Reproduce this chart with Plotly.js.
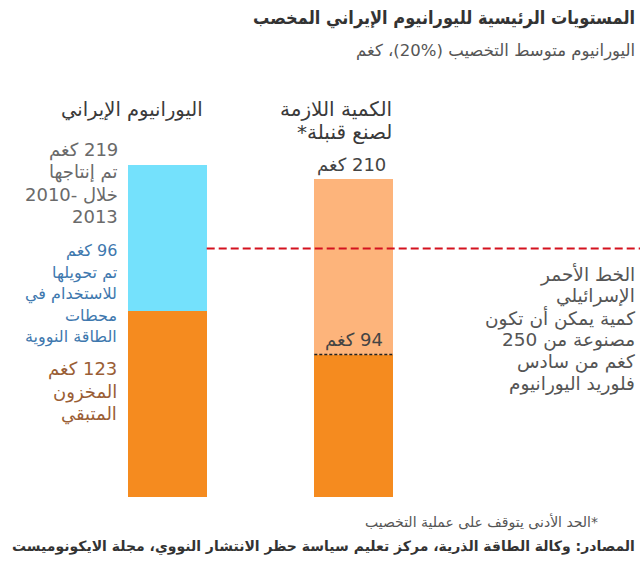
<!DOCTYPE html>
<html>
<head>
<meta charset="utf-8">
<script src="https://cdn.plot.ly/plotly-3.0.1.min.js"></script>
<style>
  html, body { margin: 0; padding: 0; background: #fff; }
  #chart { width: 640px; height: 568px; }
</style>
</head>
<body>
<div id="chart"></div>
<script>
// ---------------- DATA ----------------
const categories = ['اليورانيوم الإيراني', 'الكمية اللازمة لصنع قنبلة*'];
const lowerKg = [123, 94];      // remaining stockpile / minimum needed
const upperKg = [96, 116];      // converted for fuel / rest up to 210
const totalsKg = [219, 210];
const redLineKg = 164;          // Israeli red line
const lowerColors = ['#F58B1F', '#F58B1F'];
const upperColors = ['#74E1FC', '#FDB47B'];

// ---------------- LAYOUT HELPERS ----------------
const W = 640, H = 568, MT = 118, MB = 71;
const plotH = H - MT - MB;
const X = px => px / W;
const Y = py => (H - MB - py) / plotH;
const RLE = '\u202B', PDF = '\u202C', LRI = '\u2066', PDI = '\u2069';
const rtl = s => RLE + s + PDF;
const FONT = 'DejaVu Sans, sans-serif';
const FONT_C = 'DejaVu Sans Condensed, DejaVu Sans, sans-serif';

const barWidth = 78.4 / 186;
const xRange = [-167.5 / 186, (640 - 167.5) / 186];

const annotations = [];
function block(lines, rightPx, firstY, dy, color, size, bold, family) {
  lines.forEach((t, i) => {
    annotations.push({
      xref: 'paper', yref: 'paper',
      x: X(rightPx), y: Y(firstY + i * dy),
      xanchor: 'right', yanchor: 'middle', align: 'right',
      showarrow: false,
      text: bold ? '<b>' + rtl(t) + '</b>' : rtl(t),
      font: { family: family || FONT, size: size, color: color }
    });
  });
}

// title + subtitle
block(['المستويات الرئيسية لليورانيوم الإيراني المخصب'], 637, 18, 0, '#333333', 18, true, FONT_C);
block(['اليورانيوم متوسط التخصيب (' + LRI + '20%' + PDI + ')، كغم'], 637, 51, 0, '#555555', 16.5, false);

// column headers
block(['اليورانيوم الإيراني'], 205, 110, 0, '#3a3a3a', 19.5, false);
block(['الكمية اللازمة', 'لصنع قنبلة*'], 394, 109, 23, '#3a3a3a', 20, false);

// left bar notes
block([totalsKg[0] + ' كغم', 'تم إنتاجها', 'خلال -2010', '2013'], 120, 150, 22, '#6a6a6a', 18, false);
block([upperKg[0] + ' كغم', 'تم تحويلها', 'للاستخدام في', 'محطات', 'الطاقة النووية'], 119, 251, 21.5, '#3E78AE', 16, false);
block([lowerKg[0] + ' كغم', 'المخزون', 'المتبقي'], 119, 369, 22.5, '#9A5E35', 18, false);

// right bar notes
block([totalsKg[1] + ' كغم'], 388, 165, 0, '#444444', 18, false);
block([lowerKg[1] + ' كغم'], 385, 340, 0, '#444444', 18, false);

// red line note
block(['الخط الأحمر', 'الإسرائيلي', 'كمية يمكن أن تكون', 'مصنوعة من 250', 'كغم من سادس', 'فلوريد اليورانيوم'],
      637, 274, 22, '#555555', 18.5, false);

// footnote + source
block(['*الحد الأدنى يتوقف على عملية التخصيب'], 600, 522, 0, '#555555', 14, false);
block(['المصادر: وكالة الطاقة الذرية، مركز تعليم سياسة حظر الانتشار النووي، مجلة الايكونوميست'], 637, 547, 0, '#333333', 14, true);

// ---------------- TRACES ----------------
const traces = [
  { type: 'bar', x: categories, y: lowerKg, width: barWidth,
    marker: { color: lowerColors, line: { width: 0 } }, hoverinfo: 'skip' },
  { type: 'bar', x: categories, y: upperKg, width: barWidth,
    marker: { color: upperColors, line: { width: 0 } }, hoverinfo: 'skip' }
];

const shapes = [
  { type: 'line', xref: 'x', yref: 'y', layer: 'above',
    x0: 0 + barWidth / 2, x1: xRange[1], y0: redLineKg, y1: redLineKg,
    line: { color: '#D4121F', width: 2, dash: '8px,4px' } },
  { type: 'line', xref: 'x', yref: 'y', layer: 'above',
    x0: 1 - barWidth / 2, x1: 1 + barWidth / 2, y0: lowerKg[1], y1: lowerKg[1],
    line: { color: '#222222', width: 1.5, dash: '3px,2px' } }
];

const layout = {
  width: W, height: H,
  margin: { l: 0, r: 0, t: MT, b: MB, pad: 0 },
  paper_bgcolor: '#ffffff', plot_bgcolor: '#ffffff',
  barmode: 'stack', showlegend: false,
  font: { family: FONT },
  xaxis: { type: 'category', range: xRange, visible: false, fixedrange: true },
  yaxis: { range: [0, 250], visible: false, fixedrange: true },
  shapes: shapes,
  annotations: annotations
};

Plotly.newPlot('chart', traces, layout, { displayModeBar: false, staticPlot: true });
</script>
</body>
</html>
